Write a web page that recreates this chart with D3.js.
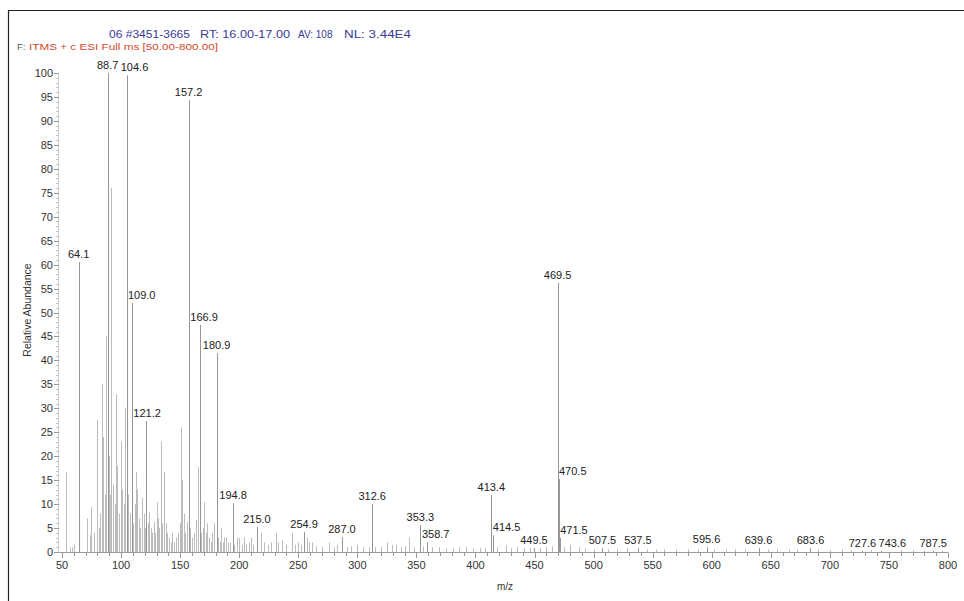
<!DOCTYPE html>
<html><head><meta charset="utf-8">
<script src="https://cdn.jsdelivr.net/npm/d3@7"></script>
<style>body{margin:0;background:#fff}svg{display:block}</style>
</head><body>
<svg id="c" width="964" height="601"></svg>
<script>
// ---- data ----
const xTicks = [50,100,150,200,250,300,350,400,450,500,550,600,650,700,750,800];
const yTicks = [0,5,10,15,20,25,30,35,40,45,50,55,60,65,70,75,80,85,90,95,100];
const labeledMz = [64.1,88.7,104.6,109.0,121.2,157.2,166.9,180.9,194.8,215.0,254.9,287.0,312.6,353.3,358.7,413.4,414.5,449.5,469.5,470.5,471.5,507.5,537.5,595.6,639.6,683.6,727.6,743.6,787.5];
const labeledInt = [60.5,100,99.5,52,27.3,94.4,47.4,41.5,10.2,5.2,4.2,3.1,10,5.6,2.0,11.9,3.5,0.8,56.2,15.2,2.9,0.8,0.8,1.0,0.8,0.8,0.3,0.2,0.3];
const minorMz = [53.4,57.0,58.5,60.1,71.0,73.5,74.5,77.0,79.6,81.0,82.5,83.9,84.7,86.0,87.5,89.5,90.5,91.5,93.0,94.5,95.7,96.6,98.0,100.0,101.0,102.5,103.3,106.0,107.5,110.5,111.5,112.6,113.5,115.0,116.0,117.7,119.0,120.0,122.5,123.7,125.0,126.5,128.0,129.0,130.4,131.5,132.5,133.8,135.0,136.4,138.0,139.0,140.5,142.0,143.5,145.0,146.5,148.0,149.5,150.7,151.6,153.0,154.5,155.8,158.5,160.0,161.5,163.4,165.2,168.0,169.0,170.2,171.5,172.8,174.5,176.0,177.0,179.0,182.0,183.5,184.6,186.0,187.0,188.9,190.5,192.5,196.0,198.0,199.9,202.0,204.0,206.0,208.0,210.0,212.0,218.5,221.0,224.0,227.0,231.0,233.0,236.0,240.0,244.7,247.0,250.0,252.0,257.5,259.0,261.7,265.0,270.0,276.0,280.0,283.0,291.0,295.0,299.8,305.0,310.0,315.0,320.0,325.0,329.0,332.8,337.0,340.0,343.8,348.0,356.0,363.0,369.0,375.0,381.0,386.0,392.0,398.0,404.0,408.0,418.0,425.9,430.0,435.0,441.0,446.0,455.0,460.0,465.0,475.0,480.0,487.7,493.0,500.0,512,520,528,545,553,560,570,580,588,602,612,620,628,648,655,665,672,690,700,710,718,735,760,770,780,795];
const minorInt = [16.7,1.0,1.0,1.5,7,3.5,9.4,4,27.5,5,8,35,24,12,45,20,12,76,14,10,33,18,8,23,13,10,30,12,8,6,10,16.7,13,7,5,11.3,8,5,6,8.4,5,4,6.3,4,10.4,7,5,23,6,16.7,6,4,3,2,4,2,3,4,6,26,15,8,4,6.3,5,3,4,6.7,17.7,4,5,10.4,4,6,3,2,4,6,3,2,5,2,3,3,2,2,1.5,3,3,1.5,3,1.5,2,3,1.5,4,2,1.5,2,4,2,2.5,1.5,4,1.5,2,1.5,3,2,2,1.2,1,2,1,1.5,1,1.2,1.5,1,1,1,1,2,1.5,1.5,1,1.2,3,1,1.2,1,1,0.8,0.8,1,1,0.8,0.8,0.8,1,1.5,0.8,1,0.8,0.8,0.8,1,1.2,1,1.5,1,0.8,0.6,0.6,0.6,0.8,0.6,0.5,0.6,0.5,0.6,0.5,0.5,0.5,0.6,0.5,0.5,0.6,0.5,0.6,0.5,0.4,0.5,0.4,0.4,0.4,0.4,0.3,0.3];
const headerParts = ["06 #3451-3665","RT: 16.00-17.00","AV: 108","NL: 3.44E4"];
const filterPrefix = "F:";
const filterText = "ITMS + c ESI Full ms [50.00-800.00]";
const xTitle = "m/z";
const yTitle = "Relative Abundance";

// ---- layout ----
const svg = d3.select("#c");
const x = d3.scaleLinear().domain([50,800]).range([62,948]);
const y = d3.scaleLinear().domain([0,100]).range([552,73]);
const FONT = "'Liberation Sans', Arial, sans-serif";

// frame
svg.append("path").attr("d","M8.5,601 V10.5 H964").attr("fill","none").attr("stroke","#222").attr("stroke-width",1.2);

// header
const hx = [109,200,298,344], hw = [81,90,0,67];
headerParts.forEach((t,i)=>{
  const el = svg.append("text").attr("x",hx[i]).attr("y",38).attr("font-family",FONT).attr("font-size",10)
    .attr("fill","#3a3a9a").text(t);
  if (hw[i]) el.attr("textLength",hw[i]).attr("lengthAdjust","spacingAndGlyphs");
});
svg.append("text").attr("x",17).attr("y",49.5).attr("font-family",FONT).attr("font-size",9.5).attr("fill","#555").text(filterPrefix);
svg.append("text").attr("x",29).attr("y",49.5).attr("font-family",FONT).attr("font-size",9.5).attr("fill","#d4482c")
  .attr("textLength",189).attr("lengthAdjust","spacingAndGlyphs").text(filterText);

// axes
const gx = svg.append("g").attr("transform","translate(0,552)");
gx.append("line").attr("x1",58).attr("x2",948).attr("y1",0.5).attr("y2",0.5).attr("stroke","#999");
const minorX = d3.range(50,801,10);
gx.selectAll(".mx").data(minorX).join("line")
  .attr("x1",d=>Math.round(x(d))+0.5).attr("x2",d=>Math.round(x(d))+0.5)
  .attr("y1",0.5).attr("y2",d=>d%50===0?6:4).attr("stroke","#999");
gx.selectAll(".tx").data(xTicks).join("text")
  .attr("x",d=>x(d)).attr("y",17).attr("text-anchor","middle")
  .attr("font-family",FONT).attr("font-size",11).attr("fill","#333").text(d=>d);

const gy = svg.append("g");
gy.append("line").attr("x1",58.5).attr("x2",58.5).attr("y1",y(100)).attr("y2",y(0)).attr("stroke","#ccc");
gy.selectAll(".my").data(d3.range(0,101,1)).join("line")
  .attr("x1",d=>d%5===0?54:56).attr("x2",59)
  .attr("y1",d=>Math.round(y(d))+0.5).attr("y2",d=>Math.round(y(d))+0.5).attr("stroke",d=>d%5===0?"#999":"#c4c4c4");
gy.selectAll(".ty").data(yTicks).join("text")
  .attr("x",53).attr("y",d=>y(d)+4).attr("text-anchor","end")
  .attr("font-family",FONT).attr("font-size",11).attr("fill","#333").text(d=>d);

svg.append("text").attr("x",505).attr("y",590).attr("text-anchor","middle")
  .attr("font-family",FONT).attr("font-size",10).attr("fill","#333").text(xTitle);
svg.append("text").attr("transform","translate(31,310) rotate(-90)").attr("text-anchor","middle")
  .attr("font-family",FONT).attr("font-size",10.5).attr("fill","#333").text(yTitle);

// peaks
const minor = minorMz.map((m,i)=>({mz:m,v:minorInt[i]}));
const major = labeledMz.map((m,i)=>({mz:m,v:labeledInt[i]}));
svg.append("g").selectAll("line").data(minor).join("line")
  .attr("x1",d=>Math.round(x(d.mz))+0.5).attr("x2",d=>Math.round(x(d.mz))+0.5)
  .attr("y1",552).attr("y2",d=>y(d.v)).attr("stroke","#bcbcbc").attr("stroke-width",1);
svg.append("g").selectAll("line").data(major).join("line")
  .attr("x1",d=>Math.round(x(d.mz))+0.5).attr("x2",d=>Math.round(x(d.mz))+0.5)
  .attr("y1",552).attr("y2",d=>y(d.v)).attr("stroke","#969696").attr("stroke-width",1);

// labels with greedy collision avoidance
const lg = svg.append("g");
const placed = [];
const order = major.map((d,i)=>i).sort((a,b)=>major[b].v-major[a].v);
order.forEach(i=>{
  const d = major[i];
  const t = lg.append("text").attr("font-family",FONT).attr("font-size",11).attr("fill","#222")
    .attr("text-anchor","middle").text(d.mz.toFixed(1));
  const w = t.node().getComputedTextLength();
  const px = x(d.mz), base = y(d.v)-4;
  const top = base-9, bot = base+1;
  const ok = cx=>{
    const l = cx-w/2, r = cx+w/2;
    for (const b of placed) if (l<b.r+2 && r>b.l-2 && top<b.b && bot>b.t) return false;
    for (let j=0;j<major.length;j++){ if(j===i) continue;
      const lx = x(major[j].mz), ly = y(major[j].v);
      if (ly<bot && lx>=l-1 && lx<=r+1) return false; }
    return r<=952;
  };
  let cx = px;
  for (let k=0;k<60;k++){ if(ok(px+k)){cx=px+k;break;} if(ok(px-k)){cx=px-k;break;} }
  t.attr("x",cx).attr("y",base);
  placed.push({l:cx-w/2,r:cx+w/2,t:top,b:bot});
});
</script>
</body></html>
